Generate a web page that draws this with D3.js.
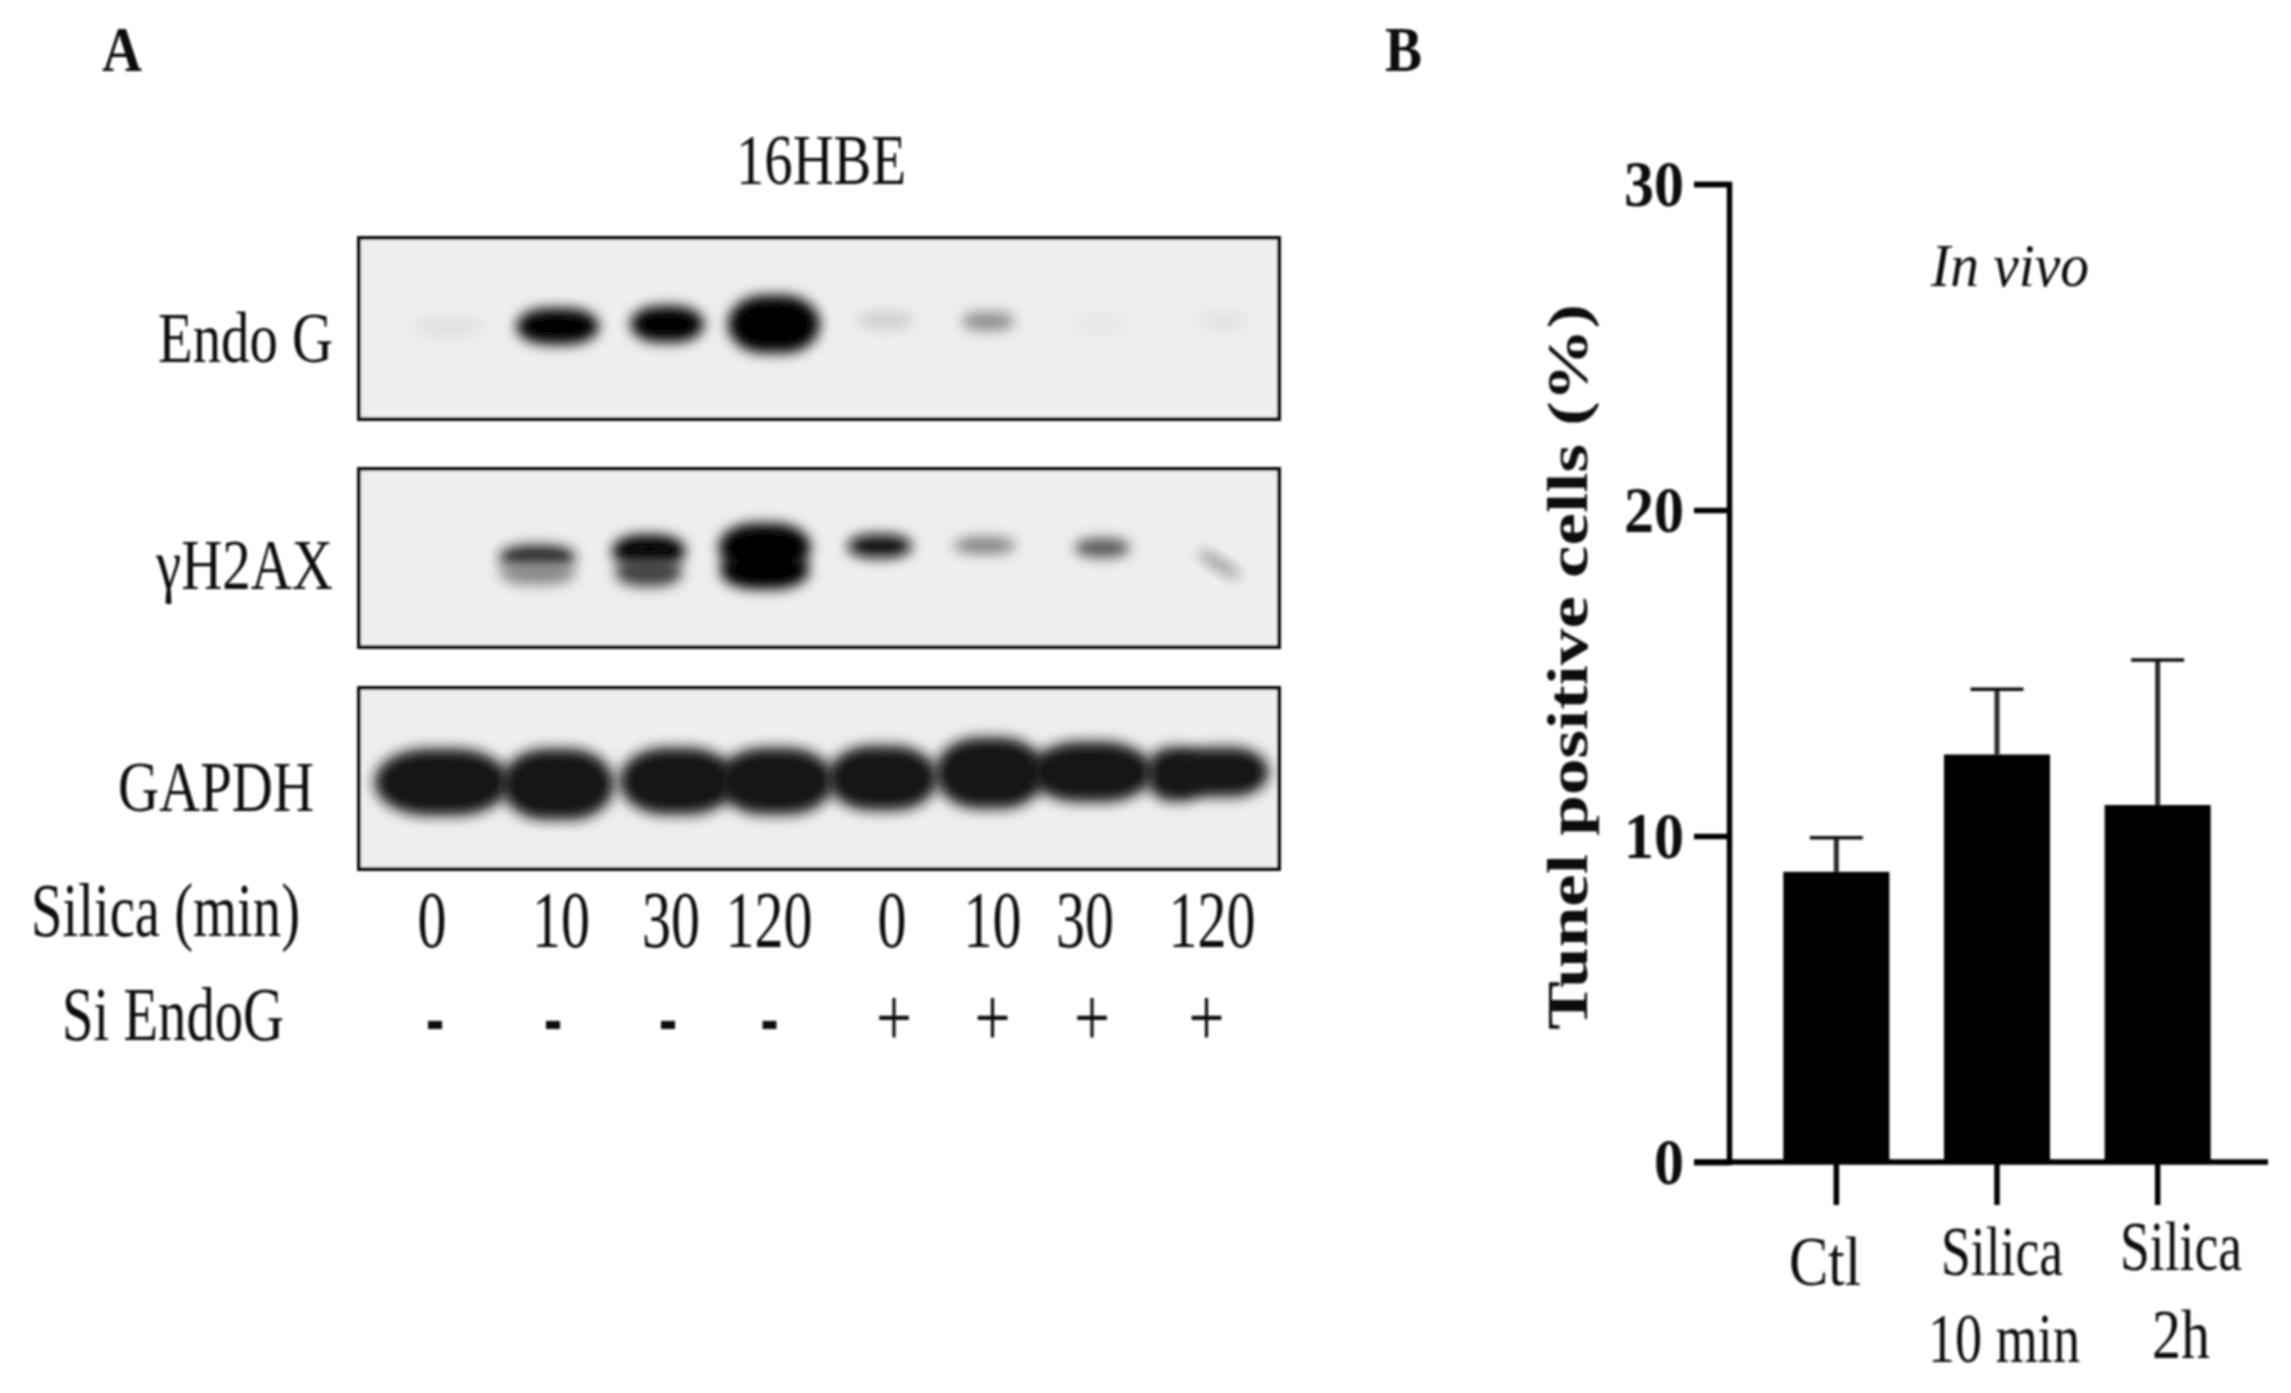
<!DOCTYPE html>
<html>
<head>
<meta charset="utf-8">
<script src="https://cdn.jsdelivr.net/npm/d3@7"></script>
<style>
  html, body { margin: 0; background: #fff; }
  text { font-family: "Liberation Serif", serif; fill: #111; }
</style>
</head>
<body>
<div id="chart"></div>
<script>
// Panel A: band readings, in percent of the blot width / height
var endoLane = [9.7, 21.6, 33.5, 45.1, 57.3, 68.4, 80.6, 93.9];
var endoRun = [49, 48.8, 47.6, 47.6, 45.5, 46, 47.5, 45.5];
var endoSpread = [8, 9, 8, 10, 6, 5.7, 6, 5.3];
var endoThick = [12, 20, 20, 32, 10, 10, 12, 10];
var endoLevel = [0.05, 1, 1, 1, 0.13, 0.42, 0.03, 0.05];

var h2axLane = [19.4, 19.4, 31.5, 31.5, 44.1, 44.1, 56.6, 68, 80.8, 93.5];
var h2axRun = [49.5, 58.5, 46, 58, 44, 57, 43.3, 42.9, 44.3, 53.6];
var h2axSpread = [8.3, 8.3, 8, 7.3, 10, 9.7, 7, 6.7, 6, 5.3];
var h2axThick = [13, 13, 18, 16, 27, 21, 13, 9, 10.5, 5.5];
var h2axLevel = [0.88, 0.42, 1, 0.72, 1, 1, 0.95, 0.48, 0.65, 0.42];
var h2axTilt = [0, 0, 0, 0, 0, 0, 0, 0, 0, 32];

var gapdhLane = [9, 21.6, 34.6, 45.3, 56.9, 68.6, 79.6, 88.9, 93.9];
var gapdhRun = [52, 53.2, 51.4, 51.4, 49.8, 47, 46.4, 47.6, 46.4];
var gapdhSpread = [14.6, 12.3, 12.6, 12.6, 12, 12, 13.3, 6.7, 10];
var gapdhThick = [36.9, 39.3, 36.9, 36.9, 35.7, 39.3, 33.3, 29.8, 27.4];
var gapdhLevel = [0.9, 0.9, 0.9, 0.9, 0.9, 0.9, 0.9, 0.9, 0.9];

var silicaLabels = ["0", "10", "30", "120", "0", "10", "30", "120"];
var endoSigns = ["-", "-", "-", "-", "+", "+", "+", "+"];

// Panel B
var categories = ["Ctl", "Silica 10 min", "Silica 2h"];
var tunelMean = [8.9, 12.5, 10.95];
var tunelErrorTop = [9.95, 14.5, 15.4];
var yTicks = [0, 10, 20, 30];

var svg = d3.select("#chart").append("svg")
  .attr("width", 2291).attr("height", 1393)
  .style("display", "block");

var defs = svg.append("defs");
defs.append("filter").attr("id", "bandBlur")
  .attr("x", "-40%").attr("y", "-80%").attr("width", "180%").attr("height", "260%")
  .append("feGaussianBlur").attr("stdDeviation", 6.5);
defs.append("filter").attr("id", "soft")
  .append("feGaussianBlur").attr("stdDeviation", 0.8);

var root = svg.append("g").attr("filter", "url(#soft)");

// squeezed serif labels, the original text is narrow and tall
function label(txt, x, y, size, width, opts) {
  opts = opts || {};
  var t = root.append("text")
    .attr("x", x).attr("y", y)
    .attr("font-size", size)
    .attr("text-anchor", opts.anchor || "start")
    .attr("font-weight", opts.weight || "normal")
    .attr("font-style", opts.style || "normal")
    .text(txt);
  if (width) t.attr("textLength", width).attr("lengthAdjust", "spacingAndGlyphs");
  if (opts.rotate) t.attr("transform", "rotate(" + opts.rotate + "," + x + "," + y + ")");
  return t;
}

var bandColor = d3.interpolateRgb("#eeeeee", "#000000");

function drawBlot(id, top, bottom, lane, run, spread, thick, level, tilt) {
  var x = d3.scaleLinear().domain([0, 100]).range([359, 1279]);
  var y = d3.scaleLinear().domain([0, 100]).range([top, bottom]);
  var bands = lane.map(function (d, i) {
    return {
      lane: d, run: run[i], spread: spread[i], thick: thick[i],
      level: level[i], tilt: tilt ? tilt[i] : 0
    };
  });

  var clip = defs.append("clipPath").attr("id", id);
  clip.append("rect").attr("x", x(0)).attr("y", top)
    .attr("width", x(100) - x(0)).attr("height", bottom - top);

  root.append("rect")
    .attr("x", x(0)).attr("y", top)
    .attr("width", x(100) - x(0)).attr("height", bottom - top)
    .attr("fill", "#eeeeee");

  root.append("g").attr("clip-path", "url(#" + id + ")")
    .selectAll("rect").data(bands).enter().append("rect")
    .attr("x", function (d) { return x(d.lane) - (x(d.spread) - x(0)) / 2; })
    .attr("y", function (d) { return y(d.run) - (y(d.thick) - y(0)) / 2; })
    .attr("width", function (d) { return x(d.spread) - x(0); })
    .attr("height", function (d) { return y(d.thick) - y(0); })
    .attr("rx", function (d) { return (x(d.spread) - x(0)) * 0.4; })
    .attr("ry", function (d) { return (y(d.thick) - y(0)) * 0.5; })
    .attr("fill", function (d) { return bandColor(d.level); })
    .attr("filter", "url(#bandBlur)")
    .attr("transform", function (d) {
      return d.tilt ? "rotate(" + d.tilt + "," + x(d.lane) + "," + y(d.run) + ")" : null;
    });

  root.append("rect")
    .attr("x", x(0)).attr("y", top)
    .attr("width", x(100) - x(0)).attr("height", bottom - top)
    .attr("fill", "none").attr("stroke", "#0a0a0a").attr("stroke-width", 4);
}

drawBlot("clipEndo", 238, 419, endoLane, endoRun, endoSpread, endoThick, endoLevel);
drawBlot("clipH2ax", 469, 647, h2axLane, h2axRun, h2axSpread, h2axThick, h2axLevel, h2axTilt);
drawBlot("clipGapdh", 688, 869, gapdhLane, gapdhRun, gapdhSpread, gapdhThick, gapdhLevel);

label("A", 102, 71, 64, 40, { weight: "bold" });
label("B", 1385, 71, 64, 37, { weight: "bold" });
label("16HBE", 736, 184, 72, 170);
label("Endo G", 158, 362, 72, 175);
label("γH2AX", 156, 589, 72, 177);
label("GAPDH", 118, 811, 72, 196);
label("Silica (min)", 31, 936, 76, 269);
label("Si EndoG", 62, 1040, 76, 222);

var silicaCenter = [432, 561, 671, 769, 892, 992.5, 1085, 1212];
var signCenter = [435, 553, 668, 769.5, 894, 992.5, 1092, 1206.5];
silicaLabels.forEach(function (d, i) {
  label(d, silicaCenter[i], 947, 81, 29 * d.length, { anchor: "middle" });
});
endoSigns.forEach(function (d, i) {
  if (d === "-") label(d, signCenter[i], 1047, 96, 18, { anchor: "middle", weight: "bold" });
  else label(d, signCenter[i], 1046, 85, 36, { anchor: "middle" });
});

// Panel B bar chart
var x = d3.scaleBand().domain(categories).range([1756, 2238]).paddingInner(0.34).paddingOuter(0.17);
var y = d3.scaleLinear().domain([0, 30]).range([1162, 184]);

var errW = 53;
var bars = categories.map(function (c, i) {
  return { cat: c, mean: tunelMean[i], top: tunelErrorTop[i] };
});

root.selectAll(".err").data(bars).enter().append("line")
  .attr("class", "err")
  .attr("x1", function (d) { return x(d.cat) + x.bandwidth() / 2; })
  .attr("x2", function (d) { return x(d.cat) + x.bandwidth() / 2; })
  .attr("y1", function (d) { return y(d.mean); })
  .attr("y2", function (d) { return y(d.top); })
  .attr("stroke", "#2a2a2a").attr("stroke-width", 5);

root.selectAll(".cap").data(bars).enter().append("line")
  .attr("class", "cap")
  .attr("x1", function (d) { return x(d.cat) + x.bandwidth() / 2 - errW / 2; })
  .attr("x2", function (d) { return x(d.cat) + x.bandwidth() / 2 + errW / 2; })
  .attr("y1", function (d) { return y(d.top); })
  .attr("y2", function (d) { return y(d.top); })
  .attr("stroke", "#111").attr("stroke-width", 3.5);

root.selectAll(".bar").data(bars).enter().append("rect")
  .attr("class", "bar")
  .attr("x", function (d) { return x(d.cat); })
  .attr("y", function (d) { return y(d.mean); })
  .attr("width", x.bandwidth())
  .attr("height", function (d) { return y(0) - y(d.mean); })
  .attr("fill", "#000");

var yAxis = root.append("g")
  .attr("transform", "translate(1729,0)")
  .call(d3.axisLeft(y).tickValues(yTicks).tickSize(35).tickPadding(10));
yAxis.selectAll("path, line").attr("stroke", "#000").attr("stroke-width", 5.5);
yAxis.selectAll("text")
  .attr("font-size", 66).attr("font-weight", "bold")
  .attr("font-family", "Liberation Serif")
  .attr("dy", "0.33em")
  .attr("textLength", function (d) { return 30 * String(d).length; })
  .attr("lengthAdjust", "spacingAndGlyphs");

var xAxis = root.append("g")
  .attr("transform", "translate(0,1162)")
  .call(d3.axisBottom(x).tickSize(43).tickSizeOuter(0).tickFormat(""));
xAxis.select("path").remove();
xAxis.selectAll("line").attr("stroke", "#000").attr("stroke-width", 5.5);
root.append("line")
  .attr("x1", 1694).attr("x2", 2268)
  .attr("y1", y(0)).attr("y2", y(0))
  .attr("stroke", "#000").attr("stroke-width", 5.5);

label("Tunel positive cells (%)", 1587, 1030, 58, 726, { weight: "bold", rotate: -90 });
label("In vivo", 1931, 286, 62, 158, { style: "italic" });

label("Ctl", 1825, 1285, 70, 72, { anchor: "middle" });
label("Silica", 2002, 1275, 70, 122, { anchor: "middle" });
label("10 min", 2004, 1362, 70, 152, { anchor: "middle" });
label("Silica", 2181, 1270, 70, 122, { anchor: "middle" });
label("2h", 2181, 1358, 70, 58, { anchor: "middle" });
</script>
</body>
</html>
